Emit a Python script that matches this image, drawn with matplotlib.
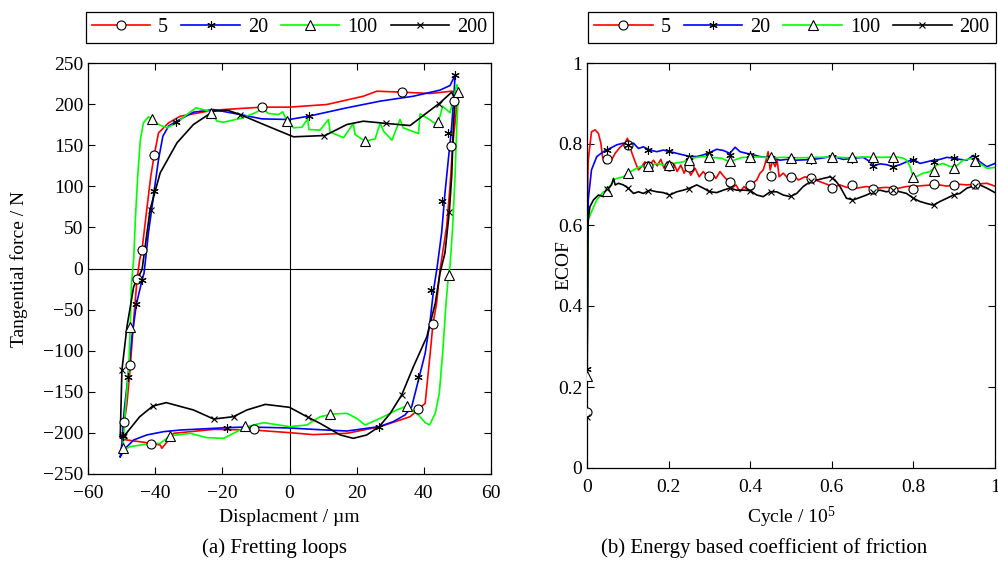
import matplotlib
matplotlib.use("Agg")
import matplotlib.pyplot as plt
from matplotlib.lines import Line2D

plt.rcParams['font.family'] = ['Liberation Serif', 'DejaVu Serif']
plt.rcParams['mathtext.default'] = 'regular'
plt.rcParams['font.size'] = 14

# --- series styles / labels ---
labels = ['5', '20', '100', '200']
colors = ['#ff0000', '#0000ff', '#00ff00', '#000000']
markers = ['o', (6, 2, 0), '^', 'x']

# --- (a) fretting loops: displacement (um) vs tangential force (N) ---
loop5_x = [-49.9, -48.4, -47.4, -46.4, -45.4, -44.6, -43.9, -42.5, -41.3, -40.3, -39.0, -36.0, -32.5,
           -22.6, -8.2, 0.0, 11.1, 22.0, 26.0, 33.6, 41.9, 48.3, 50.0, 49.6, 48.6, 47.8, 46.8, 45.3,
           44.8, 43.8, 42.7, 41.9, 40.4, 38.2, 35.9, 27.0, 17.1, 7.1, 0.0, -10.7, -22.6, -34.5, -38.0,
           -38.5, -42.5, -48.4, -49.9]
loop5_y = [-207.8, -164, -119.4, -62.7, -13.2, 11, 23.1, 71.8, 112.3, 137.5, 165, 177.2, 185.3,
           192.6, 196.3, 196.3, 199.5, 209.6, 215.7, 214.5, 212.9, 215.7, 213.7, 189.4, 150.9, 100, 51.5, 11,
           -1.8, -42.4, -67.9, -103, -164, -172, -180.3, -192.4, -200.5, -202.1, -199.7, -196.5, -195.7, -200.5, -218.8,
           -214.7, -211.9, -208.6, -207.8]
mk5_x = [-49.4, -47.6, -45.4, -43.9, -40.3, -8.2, 33.6, 49.1, 48.0, 42.7, 38.2, -10.7, -41.2]
mk5_y = [-186.3, -117, -13.2, 23.1, 137.5, 196.3, 214.5, 203.6, 148.8, -67.9, -170.9, -195.7, -213.5]

loop20_x = [-50.4, -49.9, -49.2, -48.2, -46.9, -45.6, -43.9, -43.3, -42.0, -40.3, -39.0, -37.7, -36.0,
            -33.5, -28.6, -22.6, -14.7, -8.2, 0.0, 5.7, 17.1, 27.0, 36.9, 44.8, 47.8, 49.3, 49.0, 48.3,
            47.3, 46.3, 45.3, 44.0, 42.9, 41.9, 40.4, 38.4, 36.4, 34.4, 30.9, 26.7, 17.1, 7.1, 0.0,
            -12.7, -18.5, -32.5, -37.5, -42.5, -46.4, -48.9, -50.4]
loop20_y = [-229, -212.7, -172, -135.6, -82.9, -43.6, -14, -5.3, 43.4, 94.1, 132.6, 161, 173.3,
            179.4, 190.2, 193.3, 187.3, 182, 181.3, 185.3, 195.5, 203.6, 209.6, 217, 222.6, 235.2, 213.7, 173.2,
            132.6, 92, 43.4, 2.8, -26.2, -62.7, -103.2, -135.6, -168, -178.2, -186.3, -192.4, -197.7, -195.7, -194,
            -192.8, -193.6, -196.5, -198.5, -202.5, -208.6, -218.8, -229]
mk20_x = [49.3, 47.3, 45.5, 5.7, -33.7, -40.3, -43.9, -45.6, -48.1, -49.6, -18.5, 26.7, 38.4, 42.1]
mk20_y = [235.2, 165, 81.9, 185.3, 178.4, 94, -14, -43.6, -132.4, -203.4, -193.6, -192.4, -131.6, -26.2]

loop100_x = [-49.6, -48.9, -47.9, -47.4, -47.1, -46.7, -46.4, -45.9, -45.2, -44.4, -43.5, -42.0, -40.8,
             -39.0, -36.5, -33.5, -30.6, -27.8, -25.1, -23.2, -21.6, -19.6, -14.7, -10.7, -7.9, -6.3, -3.3,
             -2.0, -1.3, 0.0, 1.2, 3.7, 5.4, 5.8, 9.1, 11.6, 12.1, 16.1, 19.0, 19.5, 22.5, 25.5, 27.0, 28.0,
             30.5, 32.9, 33.9, 38.4, 38.9, 41.4, 43.8, 44.8, 45.6, 47.8, 49.8, 50.3, 49.8, 49.3, 48.6, 47.8,
             47.3, 46.6, 45.6, 44.6, 43.4, 41.7, 40.4, 38.4, 34.9, 31.9, 27.0, 22.5, 20.0, 17.1, 13.1, 9.1,
             5.2, 0.0, -7.7, -12.7, -16.7, -19.6, -24.6, -29.6, -33.5, -35.5, -38.5, -42.5, -47.4, -49.6]
loop100_y = [-220.8, -172.1, -123.5, -70.8, -22.1, -1.8, 11, 59.6, 112.3, 157, 177.2, 184.5, 182,
             175.2, 171.1, 177.2, 187.3, 195.5, 192.6, 190.2, 179.2, 178, 182.5, 188.6, 194.3, 188.6, 187.3,
             190.6, 184.5, 177.2, 171.1, 171.9, 182, 169.1, 168.3, 181.3, 166, 159.1, 176.4, 163, 154.9, 157.7, 177.2, 167.1,
             156.1, 181.3, 171.1, 164.2, 188.2, 182, 175.2, 185.3, 197.5, 189.4, 223.8, 215.7, 173.2, 112.3, 51.5, 2.8,
             -9.9, -42.4, -103.2, -151.9, -176.2, -190.4, -187.5, -178.2, -167.3, -172.1, -182.3, -190.4, -182.3, -176.2, -177, -180.3,
             -190.4, -192.4, -187.5, -192.4, -200.5, -206.6, -205.8, -200.5, -202.5, -203.4, -212.7, -213.5, -216.7, -220.8]
mk100_x = [-40.8, -23.3, -0.8, 22.5, 44.1, 50.1, 47.5, 34.9, 12.1, -13.2, -35.5, -49.6, -47.4]
mk100_y = [181.3, 189.4, 180, 154.9, 178, 214.9, -7.3, -167.3, -177, -191.2, -203.4, -218.8, -70.8]

loop200_x = [-50.4, -49.9, -48.4, -46.4, -43.9, -41.5, -38.5, -33.5, -28.6, -22.6, -18.5, -14.7, -7.7,
             1.2, 10.6, 17.1, 22.0, 29.0, 35.9, 40.9, 44.8, 48.3, 49.3, 48.8, 48.3, 47.6, 46.3, 44.8, 43.4,
             40.9, 36.9, 33.4, 30.0, 26.7, 23.0, 19.0, 15.1, 9.1, 5.2, 0.0, -7.2, -12.7, -16.7, -22.6, -28.6,
             -36.7, -40.7, -44.6, -49.4, -50.4]
loop200_y = [-204.6, -123.5, -70.8, -22.1, -1.2, 71.8, 116.4, 152.9, 175.2, 191.4, 192.6, 187.3, 175.2,
             160.2, 161.8, 175.2, 179.2, 176.4, 173.9, 189.4, 201.5, 214.5, 205.6, 173.2, 112.3, 69.7, 19.1, -5.9, -42.4,
             -82.9, -119.4, -153.9, -176.2, -192.4, -202.5, -206.6, -202.5, -188.4, -180.3, -168.9, -165.3, -172.1, -180.3, -183.1, -172.1,
             -163.2, -167.3, -180.3, -204.6, -204.6]
mk200_x = [-49.8, -49.4, -41.2, -14.7, 10.4, 28.8, 44.6, 47.4, 33.4, 5.5, -16.5, -22.6, -40.7]
mk200_y = [-123.5, -202.5, 70.8, 187.3, 161.8, 176.4, 200.7, 68.5, -153.9, -180.3, -180.3, -183.1, -167.3]

# --- (b) ECOF vs cycles (x 10^5) ---
cyc5 = [0.0, 0.002, 0.003, 0.011, 0.020, 0.028, 0.034, 0.038, 0.044, 0.052, 0.060, 0.069, 0.081, 0.093,
        0.099, 0.104, 0.109, 0.118, 0.126, 0.134, 0.142, 0.152, 0.163, 0.172, 0.181, 0.189, 0.197, 0.205,
        0.213, 0.221, 0.230, 0.238, 0.246, 0.254, 0.265, 0.275, 0.285, 0.295, 0.306, 0.316, 0.326, 0.336,
        0.344, 0.355, 0.365, 0.375, 0.385, 0.395, 0.406, 0.416, 0.424, 0.432, 0.439, 0.444, 0.449, 0.455,
        0.461, 0.466, 0.471, 0.481, 0.493, 0.506, 0.518, 0.534, 0.555, 0.571, 0.587, 0.604, 0.620, 0.636,
        0.661, 0.685, 0.710, 0.734, 0.759, 0.783, 0.808, 0.833, 0.857, 0.882, 0.906, 0.931, 0.955, 0.980, 1.0]
ecof5 = [0.139, 0.72, 0.760, 0.830, 0.835, 0.826, 0.802, 0.769, 0.752, 0.762, 0.760, 0.777, 0.792, 0.802,
         0.814, 0.802, 0.781, 0.756, 0.736, 0.744, 0.756, 0.746, 0.760, 0.746, 0.762, 0.740, 0.756, 0.736,
         0.752, 0.732, 0.748, 0.728, 0.746, 0.723, 0.740, 0.719, 0.732, 0.719, 0.728, 0.715, 0.732, 0.719,
         0.711, 0.691, 0.699, 0.682, 0.695, 0.685, 0.703, 0.711, 0.728, 0.736, 0.760, 0.781, 0.736, 0.760,
         0.744, 0.760, 0.719, 0.728, 0.715, 0.723, 0.711, 0.719, 0.713, 0.707, 0.701, 0.693, 0.699, 0.693,
         0.691, 0.695, 0.691, 0.693, 0.690, 0.695, 0.696, 0.698, 0.700, 0.696, 0.701, 0.699, 0.701, 0.703, 0.696]

cyc20 = [0.0, 0.002, 0.003, 0.011, 0.024, 0.040, 0.056, 0.073, 0.089, 0.101, 0.114, 0.126, 0.138, 0.154,
         0.171, 0.187, 0.203, 0.220, 0.236, 0.252, 0.269, 0.285, 0.301, 0.318, 0.334, 0.350, 0.363, 0.375,
         0.391, 0.408, 0.424, 0.440, 0.457, 0.473, 0.489, 0.514, 0.555, 0.587, 0.604, 0.628, 0.653, 0.677,
         0.694, 0.702, 0.718, 0.734, 0.751, 0.767, 0.783, 0.800, 0.816, 0.833, 0.849, 0.865, 0.882, 0.898,
         0.914, 0.931, 0.947, 0.963, 0.980, 1.0]
ecof20 = [0.244, 0.55, 0.662, 0.736, 0.769, 0.781, 0.789, 0.798, 0.802, 0.798, 0.802, 0.789, 0.793, 0.785,
          0.781, 0.785, 0.781, 0.777, 0.773, 0.769, 0.769, 0.773, 0.779, 0.787, 0.784, 0.777, 0.792, 0.781,
          0.777, 0.773, 0.769, 0.767, 0.765, 0.760, 0.762, 0.760, 0.762, 0.767, 0.769, 0.762, 0.765, 0.767,
          0.756, 0.746, 0.751, 0.749, 0.744, 0.749, 0.756, 0.762, 0.752, 0.756, 0.760, 0.762, 0.767, 0.765,
          0.762, 0.760, 0.772, 0.756, 0.744, 0.752]

cyc100 = [0.0, 0.002, 0.003, 0.011, 0.024, 0.040, 0.052, 0.065, 0.073, 0.089, 0.101, 0.114, 0.130, 0.146,
          0.154, 0.171, 0.195, 0.212, 0.236, 0.252, 0.269, 0.285, 0.301, 0.330, 0.345, 0.355, 0.380, 0.420,
          0.450, 0.480, 0.520, 0.560, 0.600, 0.640, 0.680, 0.720, 0.760, 0.775, 0.783, 0.792, 0.800, 0.808,
          0.824, 0.841, 0.857, 0.873, 0.890, 0.906, 0.922, 0.947, 0.963, 0.980, 1.0]
ecof100 = [0.227, 0.55, 0.612, 0.633, 0.662, 0.682, 0.686, 0.711, 0.715, 0.719, 0.728, 0.736, 0.744, 0.748,
           0.746, 0.752, 0.746, 0.752, 0.756, 0.763, 0.767, 0.769, 0.767, 0.765, 0.758, 0.758, 0.767, 0.768,
           0.766, 0.767, 0.766, 0.767, 0.768, 0.766, 0.768, 0.767, 0.768, 0.765, 0.760, 0.744, 0.718, 0.720,
           0.728, 0.732, 0.748, 0.752, 0.744, 0.746, 0.760, 0.765, 0.752, 0.740, 0.742]

cyc200 = [0.0, 0.002, 0.003, 0.007, 0.016, 0.028, 0.040, 0.052, 0.060, 0.065, 0.069, 0.077, 0.089, 0.101,
          0.114, 0.126, 0.138, 0.154, 0.171, 0.187, 0.203, 0.220, 0.236, 0.252, 0.269, 0.285, 0.301, 0.318,
          0.334, 0.350, 0.367, 0.383, 0.400, 0.416, 0.432, 0.449, 0.465, 0.481, 0.498, 0.514, 0.530, 0.547,
          0.563, 0.579, 0.596, 0.608, 0.620, 0.636, 0.653, 0.669, 0.685, 0.702, 0.718, 0.734, 0.751, 0.767,
          0.783, 0.800, 0.816, 0.833, 0.849, 0.865, 0.882, 0.898, 0.914, 0.931, 0.947, 0.963, 0.980, 1.0]
ecof200 = [0.127, 0.55, 0.612, 0.645, 0.662, 0.674, 0.670, 0.691, 0.699, 0.715, 0.699, 0.703, 0.699, 0.691,
           0.678, 0.682, 0.678, 0.686, 0.682, 0.680, 0.674, 0.682, 0.686, 0.691, 0.699, 0.691, 0.682, 0.680,
           0.686, 0.691, 0.686, 0.686, 0.685, 0.674, 0.670, 0.682, 0.682, 0.674, 0.670, 0.678, 0.695, 0.707,
           0.711, 0.715, 0.719, 0.711, 0.695, 0.666, 0.662, 0.668, 0.674, 0.682, 0.686, 0.682, 0.686, 0.682,
           0.678, 0.666, 0.658, 0.653, 0.649, 0.658, 0.666, 0.674, 0.678, 0.691, 0.696, 0.699, 0.691, 0.680]

cyc_marks = [0.0, 0.05, 0.10, 0.15, 0.20, 0.25, 0.30, 0.35, 0.40, 0.45, 0.50, 0.55, 0.60, 0.65, 0.70,
             0.75, 0.80, 0.85, 0.90, 0.95]
mk_ecof5 = [0.139, 0.762, 0.797, 0.746, 0.746, 0.744, 0.721, 0.705, 0.699, 0.722, 0.718, 0.715, 0.692,
            0.699, 0.688, 0.686, 0.688, 0.701, 0.700, 0.701]
mk_ecof20 = [0.244, 0.785, 0.798, 0.785, 0.783, 0.768, 0.777, 0.773, 0.773, 0.765, 0.762, 0.760, 0.767,
             0.762, 0.746, 0.742, 0.760, 0.756, 0.765, 0.769]
mk_ecof100 = [0.227, 0.685, 0.728, 0.746, 0.748, 0.760, 0.769, 0.758, 0.767, 0.767, 0.766, 0.766, 0.767,
              0.767, 0.767, 0.767, 0.718, 0.733, 0.740, 0.759]
mk_ecof200 = [0.127, 0.688, 0.691, 0.684, 0.675, 0.690, 0.683, 0.691, 0.685, 0.682, 0.671, 0.708, 0.715,
              0.662, 0.681, 0.686, 0.666, 0.650, 0.675, 0.697]

loops = [(loop5_x, loop5_y, mk5_x, mk5_y), (loop20_x, loop20_y, mk20_x, mk20_y),
         (loop100_x, loop100_y, mk100_x, mk100_y), (loop200_x, loop200_y, mk200_x, mk200_y)]
ecofs = [(cyc5, ecof5, mk_ecof5), (cyc20, ecof20, mk_ecof20),
         (cyc100, ecof100, mk_ecof100), (cyc200, ecof200, mk_ecof200)]

fig = plt.figure(figsize=(9.98, 5.77), dpi=100)
ax1 = fig.add_axes([88 / 998, 1 - 474 / 577, 403 / 998, 411 / 577])
ax2 = fig.add_axes([587 / 998, 1 - 468 / 577, 408 / 998, 405 / 577])


def mk_style(i):
    m = markers[i]
    if m == 'x':
        return dict(marker='x', ms=4, mec='k', mew=0.8)
    if m == 'o' or m == '^':
        return dict(marker=m, ms=6.5, mfc='white', mec='k', mew=0.8)
    return dict(marker=m, ms=6, mec='k', mfc='k', mew=0.8)


# --- (a) ---
ax1.axhline(0, color='k', lw=0.8, zorder=1)
ax1.axvline(0, color='k', lw=0.8, zorder=1)
for i, (lx, ly, mx, my) in enumerate(loops):
    ax1.plot(lx, ly, color=colors[i], lw=1.2, zorder=2)
    ax1.plot(mx, my, ls='none', zorder=3, **mk_style(i))
ax1.set_xlim(-60, 60)
ax1.set_ylim(-250, 250)
ax1.set_xticks(range(-60, 61, 20))
ax1.set_yticks(range(-250, 251, 50))
ax1.set_xlabel('Displacment / µm', labelpad=5)
ax1.set_ylabel('Tangential force / N')
ax1.yaxis.set_label_coords(-0.148, 0.5)

# --- (b) ---
for i, (cx, ey, my) in enumerate(ecofs):
    ax2.plot(cx, ey, color=colors[i], lw=1.2, zorder=2)
    ax2.plot(cyc_marks, my, ls='none', zorder=3, **mk_style(i))
ax2.set_xlim(0, 1)
ax2.set_ylim(0, 1)
ax2.set_xticks([0, 0.2, 0.4, 0.6, 0.8, 1])
ax2.set_xticklabels(['0', '0.2', '0.4', '0.6', '0.8', '1'])
ax2.set_yticks([0, 0.2, 0.4, 0.6, 0.8, 1])
ax2.set_yticklabels(['0', '0.2', '0.4', '0.6', '0.8', '1'])
ax2.set_xlabel('Cycle / 10$^{5}$', labelpad=6)
ax2.set_ylabel('ECOF')
ax2.yaxis.set_label_coords(-0.036, 0.5)

for ax in (ax1, ax2):
    ax.tick_params(direction='in', top=True, right=True, length=5, width=0.8, labelsize=14)
    ax.tick_params(axis='x', pad=8)
    for s in ax.spines.values():
        s.set_linewidth(0.9)

# --- legends above each panel ---
handles = [Line2D([0], [0], color=colors[i], lw=1.2, **mk_style(i)) for i in range(4)]
for box in [(87, 492), (592, 992)]:
    leg = fig.legend(handles, labels, ncol=4, loc='center',
                     bbox_to_anchor=((box[0] + box[1]) / 2 / 998, 1 - 27.5 / 577),
                     borderaxespad=0, fancybox=False, edgecolor='k', framealpha=1,
                     handlelength=2.9, handletextpad=0.4, columnspacing=0.65,
                     fontsize=14.5, borderpad=0.3)
    leg.get_frame().set_linewidth(0.9)

fig.text(275 / 998, 1 - 548 / 577, '(a) Fretting loops', ha='center', va='center', fontsize=15)
fig.text(764 / 998, 1 - 548 / 577, '(b) Energy based coefficient of friction', ha='center', va='center',
         fontsize=15)

fig.savefig('out.png', dpi=100)
